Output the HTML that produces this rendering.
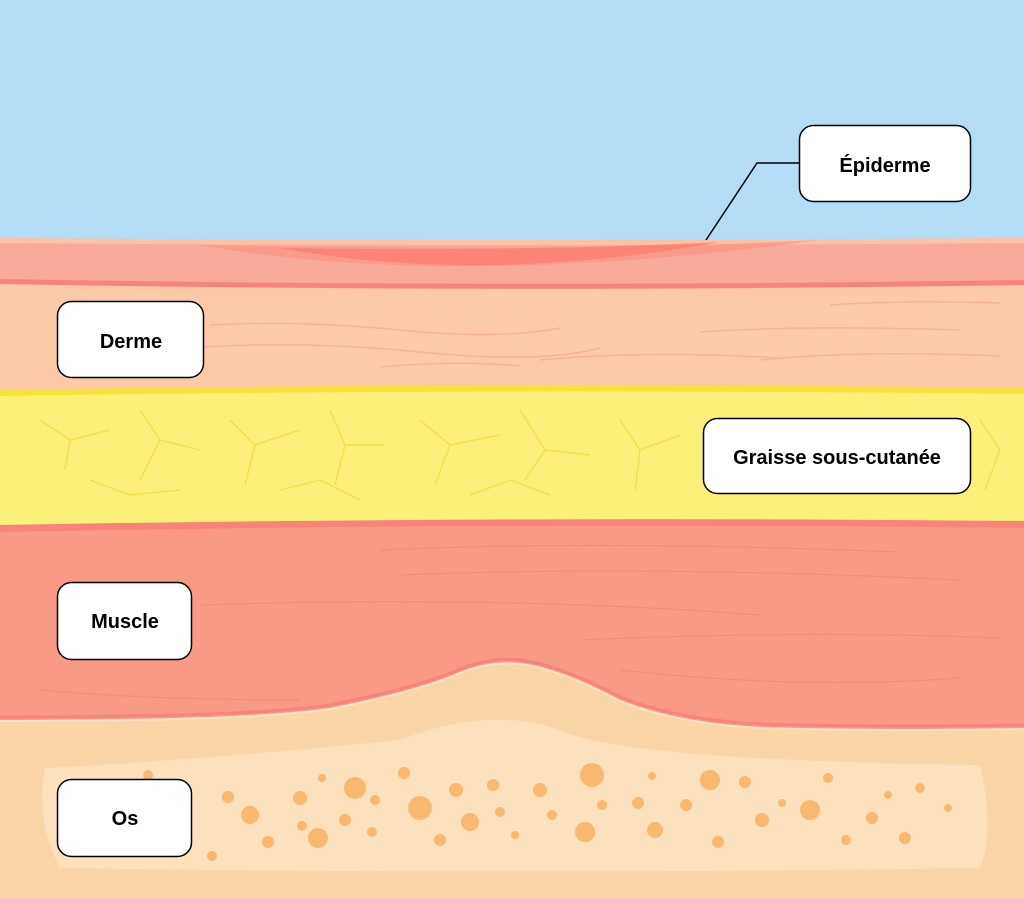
<!DOCTYPE html>
<html><head><meta charset="utf-8"><style>
html,body{margin:0;padding:0;width:1024px;height:898px;overflow:hidden}
svg{display:block}
text{font-family:"Liberation Sans",sans-serif;font-weight:bold;font-size:20px;fill:#000}
</style></head><body>
<svg width="1024" height="898" viewBox="0 0 1024 898">
<rect width="1024" height="898" fill="#b3dcf7"/>
<path d="M0 238 Q500 242 1024 238 L1024 300 L0 300Z" fill="#f9ab99"/>
<path d="M0 238 Q500 242 1024 238 L1024 243 Q500 247 0 243Z" fill="#fbc3a6"/>
<path d="M200 245 Q450 290 820 240 Q600 252 200 245Z" fill="#fa907e" opacity="0.6"/>
<path d="M280 248 Q480 285 720 242 Q520 252 280 248Z" fill="#f97c6e" opacity="0.7"/>
<path d="M0 281 Q500 290 1024 282 L1024 400 L0 400Z" fill="#fccaa8"/>
<path d="M0 279 Q500 288 1024 280 L1024 285 Q500 293 0 284Z" fill="#f5857a"/>
<g stroke="#f4ad98" stroke-width="1.5" fill="none" opacity="0.8">
<path d="M210 325 Q300 320 400 330 T560 328"/>
<path d="M190 348 Q300 340 420 352 T600 348"/>
<path d="M540 360 Q650 350 780 358"/>
<path d="M380 367 Q460 360 520 366"/>
<path d="M700 332 Q800 325 960 330"/>
<path d="M760 360 Q860 350 1000 356"/>
<path d="M830 305 Q900 300 1000 303"/>
</g>
<path d="M0 392 Q500 384 1024 390 L1024 530 L0 530Z" fill="#fbf07a"/>
<path d="M0 390 Q500 382 1024 388 L1024 394 Q500 388 0 396Z" fill="#f8e33a"/>
<g stroke="#f6e04a" stroke-width="1.5" fill="none">
<path d="M40 420 l30 20 l-5 30 M70 440 l40 -10"/>
<path d="M140 410 l20 30 l-20 40 M160 440 l40 10"/>
<path d="M230 420 l25 25 l-10 40 M255 445 l45 -15"/>
<path d="M330 410 l15 35 l40 0 M345 445 l-10 40"/>
<path d="M420 420 l30 25 l-15 40 M450 445 l50 -10"/>
<path d="M520 410 l25 40 l-20 30 M545 450 l45 5"/>
<path d="M620 420 l20 30 l40 -15 M640 450 l-5 40"/>
<path d="M90 480 l40 15 l50 -5"/>
<path d="M280 490 l40 -10 l40 20"/>
<path d="M470 495 l40 -15 l40 15"/>
<path d="M980 420 l20 30 l-15 40"/>
</g>
<path d="M0 528 Q500 518 1024 524 L1024 740 L0 740Z" fill="#f99a84"/>
<path d="M0 525 Q500 516 1024 521 L1024 528 Q500 522 0 532Z" fill="#f7837a"/>
<g stroke="#f48878" stroke-width="1.2" fill="none" opacity="0.8">
<path d="M380 550 Q600 540 900 552"/>
<path d="M400 575 Q650 565 960 580"/>
<path d="M200 605 Q500 595 760 615"/>
<path d="M580 640 Q800 630 1000 638"/>
<path d="M40 690 Q150 700 300 700"/>
<path d="M620 670 Q800 690 960 678"/>
</g>
<path d="M0 720 Q250 720 330 708 Q420 690 460 672 Q490 660 520 663 Q560 668 620 700 Q690 728 800 728 Q900 730 1024 728 L1024 898 L0 898Z" fill="#fcd5a6"/>
<path d="M0 717 Q250 717 330 705 Q420 687 460 669 Q490 657 520 660 Q560 665 620 697 Q690 725 800 725 Q900 727 1024 725" stroke="#f7837a" stroke-width="3" fill="none"/>
<path d="M0 721 Q250 721 330 709 Q420 691 460 673 Q490 661 520 664 Q560 669 620 701 Q690 729 800 729 Q900 731 1024 729" stroke="#fde5c8" stroke-width="2" fill="none"/>
<path d="M45 768 Q200 760 400 740 Q490 705 560 730 Q620 760 980 765 Q995 830 980 868 Q500 875 60 868 Q35 820 45 768Z" fill="#fde0bc"/>
<g fill="#f8b872">
<circle cx="148" cy="775" r="5"/><circle cx="228" cy="797" r="6"/><circle cx="250" cy="815" r="9"/><circle cx="268" cy="842" r="6"/><circle cx="212" cy="856" r="5"/>
<circle cx="300" cy="798" r="7"/><circle cx="322" cy="778" r="4"/><circle cx="302" cy="826" r="5"/><circle cx="318" cy="838" r="10"/><circle cx="345" cy="820" r="6"/><circle cx="372" cy="832" r="5"/>
<circle cx="355" cy="788" r="11"/><circle cx="375" cy="800" r="5"/><circle cx="404" cy="773" r="6"/><circle cx="420" cy="808" r="12"/><circle cx="440" cy="840" r="6"/><circle cx="456" cy="790" r="7"/><circle cx="470" cy="822" r="9"/>
<circle cx="493" cy="785" r="6"/><circle cx="500" cy="812" r="5"/><circle cx="515" cy="835" r="4"/><circle cx="540" cy="790" r="7"/><circle cx="552" cy="815" r="5"/><circle cx="585" cy="832" r="10"/><circle cx="592" cy="775" r="12"/><circle cx="602" cy="805" r="5"/>
<circle cx="638" cy="803" r="6"/><circle cx="652" cy="776" r="4"/><circle cx="655" cy="830" r="8"/><circle cx="686" cy="805" r="6"/><circle cx="710" cy="780" r="10"/><circle cx="718" cy="842" r="6"/><circle cx="745" cy="782" r="6"/>
<circle cx="762" cy="820" r="7"/><circle cx="782" cy="803" r="4"/><circle cx="810" cy="810" r="10"/><circle cx="828" cy="778" r="5"/><circle cx="846" cy="840" r="5"/><circle cx="872" cy="818" r="6"/><circle cx="888" cy="795" r="4"/><circle cx="905" cy="838" r="6"/><circle cx="920" cy="788" r="5"/><circle cx="948" cy="808" r="4"/>
</g>
<polyline points="706,240 757,163 800,163" stroke="#000" stroke-width="1.5" fill="none"/>
<g stroke="#000" stroke-width="1.5" fill="#fff">
<rect x="799.5" y="125.5" width="171" height="76" rx="14"/>
<rect x="57.5" y="301.5" width="146" height="76" rx="14"/>
<rect x="703.5" y="418.5" width="267" height="75" rx="14"/>
<rect x="57.5" y="582.5" width="134" height="77" rx="14"/>
<rect x="57.5" y="779.5" width="134" height="77" rx="14"/>
</g>
<g text-anchor="middle">
<text x="885" y="172">Épiderme</text>
<text x="131" y="348">Derme</text>
<text x="837" y="464">Graisse sous-cutanée</text>
<text x="125" y="628">Muscle</text>
<text x="125" y="825">Os</text>
</g>
</svg>
</body></html>
